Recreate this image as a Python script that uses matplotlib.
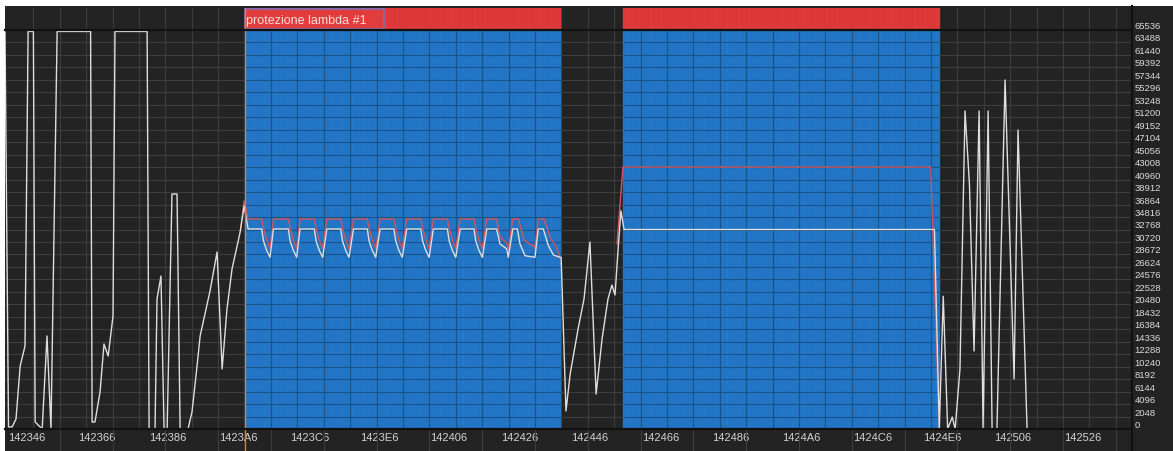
import matplotlib
matplotlib.use('Agg')
from matplotlib import pyplot as plt
from matplotlib.patches import Rectangle
from matplotlib.lines import Line2D
import numpy as np

# x = sample offset from 0x142346, y = raw value (0..65536)
X0 = 0x142346
tick_offsets = [0, 32, 64, 96, 128, 160, 192, 224, 256, 288, 320, 352, 384, 416, 448, 480]
y_ticks = list(range(0, 65537, 2048))

white_x = [-1.4, 0.2, 1.8, 3.6, 5.5, 7.7, 9.1, 11.5, 12.3, 15.5, 17.7, 19.5, 22.3, 37.5, 38.2,
           39.5, 41.8, 43.6, 45.5, 47.7, 48.6, 63.2, 64.1, 66.8, 67.7, 69.5, 70.9, 72.3, 74.5,
           76.8, 78.2, 81.8, 83.6, 85.9, 87.3, 91.8, 95.0, 97.3, 99.5, 101.8, 105.5, 107.3,
           109.1, 115.3, 116.1, 117.6, 119.1,
           120.6, 127.4, 128.2, 129.7, 131.2,
           132.7, 139.2, 140.0, 141.5, 143.0,
           144.9, 151.2, 152.0, 153.5, 155.0,
           157.0, 163.3, 164.1, 165.6, 167.1,
           169.1, 175.4, 176.2, 177.7, 179.2,
           181.2, 187.6, 188.4, 189.9, 191.4,
           193.3, 199.7, 200.5, 202.0, 203.5,
           205.5, 211.8, 212.6, 214.1, 215.6,
           217.6, 222.1, 223.6, 226.7, 227.4,
           229.4, 231.5, 232.7, 235.0, 239.5,
           241.0, 243.3, 245.6, 247.9, 250.9, 251.4,
           253.6, 255.5, 259.1, 261.8, 264.5, 267.3, 270.0, 272.7, 274.5, 275.9, 277.3, 278.6,
           280.0, 421.1, 423.3, 425.1, 427.1, 429.2, 430.5, 432.7, 435.0, 437.0, 439.1, 441.4,
           443.2, 445.5, 447.3, 449.5, 453.2, 457.3, 459.1, 463.2, 510.9]
white_y = [65200, 330, 330, 1640, 10350, 13630, 65300, 65300, 1150, 0, 15280, 0, 65300, 65300, 1150,
           1150, 6080, 13960, 11990, 18560, 65300, 65300, 0, 0, 21350, 25130, 0, 0, 38600,
           38600, 0, 0, 2790, 10350, 15280, 22670, 29070, 9860, 19710, 26280, 32360, 36630,
           32850, 32850, 30900, 29300, 28200,
           32850, 32850, 30900, 29300, 28200,
           32850, 32850, 30900, 29300, 28200,
           32850, 32850, 30900, 29300, 28200,
           32850, 32850, 30900, 29300, 28200,
           32850, 32850, 30900, 29300, 28200,
           32850, 32850, 30900, 29300, 28200,
           32850, 32850, 30900, 29300, 28200,
           32850, 32850, 30900, 29300, 28200,
           32850, 32850, 30390, 29570, 28200,
           32850, 32850, 30390, 28460, 28200,
           32850, 32850, 30110, 28580, 28200, 28200,
           2960, 9030, 16420, 21350, 30710, 5750, 14780, 21350, 23650, 22010, 29570, 35810,
           32768, 32768, 0, 21800, 0, 1970, 0, 9860, 52230, 40240, 12810, 52230,
           0, 52230, 0, 0, 57320, 8210, 49110, 0, 0]

red1_x = [105.5, 107.3, 109.1, 115.3, 116.1, 117.6, 119.1,
          120.6, 127.4, 128.2, 129.7, 131.2,
          132.7, 139.2, 140.0, 141.5, 143.0,
          144.9, 151.2, 152.0, 153.5, 155.0,
          157.0, 163.3, 164.1, 165.6, 167.1,
          169.1, 175.4, 176.2, 177.7, 179.2,
          181.2, 187.6, 188.4, 189.9, 191.4,
          193.3, 199.7, 200.5, 202.0, 203.5,
          205.5, 211.8, 212.6, 214.1, 215.6,
          217.6, 222.1, 223.6, 226.7, 227.4,
          229.4, 232.0, 234.5, 239.0, 239.5,
          241.0, 243.6, 246.4, 249.0, 250.9]
red1_y = [32360, 37450, 34500, 34500, 33000, 31000, 29600,
          34500, 34500, 33000, 31000, 29600,
          34500, 34500, 33000, 31000, 29600,
          34500, 34500, 33000, 31000, 29600,
          34500, 34500, 33000, 31000, 29600,
          34500, 34500, 33000, 31000, 29600,
          34500, 34500, 33000, 31000, 29600,
          34500, 34500, 33000, 31000, 29600,
          34500, 34500, 33000, 31000, 29600,
          34500, 34500, 31500, 30500, 29600,
          34500, 34500, 31000, 30000, 29600,
          34500, 34500, 31500, 30000, 28200]
red2_x = [276.8, 279.5, 419.4, 423.3]
red2_y = [30390, 43030, 43030, 0]

# active "protezione lambda" windows (start offset, number of samples)
event_start = [107.5, 279.5]
event_len = [144, 144]
event_label = "protezione lambda #1"

BG = '#232323'
GRID = '#3d3d3d'
W, H = 1173.0, 452.0

fig = plt.figure(figsize=(11.73, 4.52), dpi=100, facecolor='white')
fig.patches.append(Rectangle((5 / W, 0), 1, (H - 7) / H, transform=fig.transFigure,
                             facecolor=BG, edgecolor='none', zorder=-5))

ax = fig.add_axes([5 / W, 22 / H, 1127 / W, 399 / H], facecolor=BG)
axb = fig.add_axes([5 / W, 421 / H, 1127 / W, 22 / H], facecolor=BG, sharex=ax)

xmin, xmax = -1.4, 510.9
ax.set_xlim(xmin, xmax)
ax.set_ylim(0, 65536)
axb.set_ylim(0, 1)

grid_x = np.arange(11.5, xmax, 12)
for gx in grid_x:
    ax.axvline(gx, color=GRID, lw=0.8, zorder=1)
    axb.axvline(gx, color=GRID, lw=0.8, zorder=1)
for gy in y_ticks:
    ax.axhline(gy, color=GRID, lw=0.8, zorder=1)

# event bars
for s, n in zip(event_start, event_len):
    xs = s + np.arange(n)
    ax.bar(xs, 65536, width=1, align='edge', color='#2479c8', edgecolor='#1f6fbc',
           linewidth=0.3, zorder=2)
    axb.bar(xs, 1, width=1, align='edge', color='#e23c3c', edgecolor='#d03636',
            linewidth=0.3, zorder=2)
    # darker grid on top of the blue
    ax.hlines(y_ticks, s, s + n, color='#1b5288', lw=0.8, zorder=3)
    gin = [g for g in grid_x if s < g < s + n]
    ax.vlines(gin, 0, 65536, color='#1b5288', lw=0.8, zorder=3)

# label box in the event band
lab_w = 63.5
axb.add_patch(Rectangle((event_start[0], 0.03), lab_w, 0.94, facecolor='#e23c3c',
                        edgecolor='#7f72b8', lw=1.2, zorder=4))
axb.text(event_start[0] + 0.8, 0.47, event_label, color='#f6dede', fontsize=9,
         family='Liberation Sans', va='center', ha='left', zorder=5)

# signals
ax.plot(red1_x, red1_y, color='#d0555e', lw=1.0, zorder=4)
ax.plot(red2_x, red2_y, color='#d0555e', lw=1.0, zorder=4)
ax.plot(white_x, white_y, color='#dedede', lw=1.0, zorder=5)

# orange marker at start of first event
ax.axvline(event_start[0], ymin=-22 / 399.0, ymax=1, clip_on=False, color='#e0802a',
           lw=1.0, zorder=6)
axb.axvline(event_start[0], color='#e0802a', lw=1.0, zorder=6)

# x ticks
ax.set_xticks(tick_offsets)
ax.set_xticklabels(['%X' % (X0 + t) for t in tick_offsets])
ax.set_xticks(np.arange(23.5, xmax, 24), minor=True)
ax.tick_params(axis='x', which='major', length=0, pad=2.5, labelsize=8, labelcolor='#d2d2d2')
ax.tick_params(axis='x', which='minor', length=16, width=0.8, color=GRID, direction='out')
for lab in ax.get_xticklabels():
    lab.set_horizontalalignment('left')
    lab.set_family('Liberation Sans')

# y labels on the right
ax.yaxis.tick_right()
ax.set_yticks(y_ticks)
ax.set_yticklabels([str(v) for v in y_ticks])
ax.tick_params(axis='y', length=0, pad=2, labelsize=6.8, labelcolor='#dadada')
for lab in ax.get_yticklabels():
    lab.set_verticalalignment('bottom')
    lab.set_family('Liberation Sans')

axb.set_yticks([])
axb.tick_params(axis='x', which='both', length=0, labelbottom=False)
for a in (ax, axb):
    for sp in a.spines.values():
        sp.set_visible(False)

# frame lines
fig.lines.append(Line2D([5 / W, 1132 / W], [22 / H, 22 / H], transform=fig.transFigure,
                        color='#111111', lw=1.6))
fig.lines.append(Line2D([5 / W, 1132 / W], [421 / H, 421 / H], transform=fig.transFigure,
                        color='#111111', lw=1.6))
fig.lines.append(Line2D([1132 / W, 1132 / W], [0, (H - 7) / H], transform=fig.transFigure,
                        color='#111111', lw=1.6))

plt.savefig('out.png', dpi=100, facecolor=fig.get_facecolor())
